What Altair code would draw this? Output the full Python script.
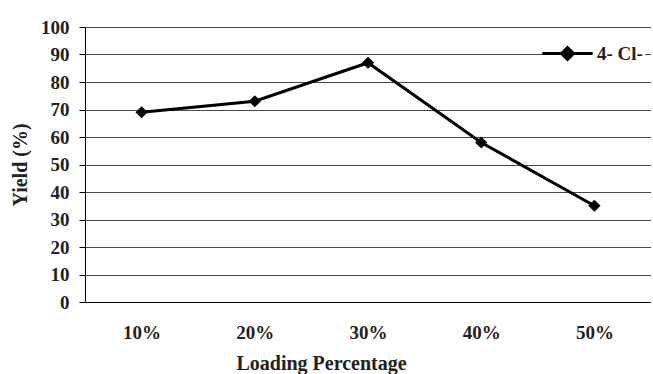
import altair as alt
import pandas as pd

categories = ["10%", "20%", "30%", "40%", "50%"]
yields = [69, 73, 87, 58, 35]
series = ["4- Cl-"] * 5

df = pd.DataFrame({"loading": categories, "yield": yields, "series": series})

FONT = "Liberation Serif"

x = alt.X("loading:N", sort=categories, title="Loading Percentage",
          scale=alt.Scale(type="point", padding=0.5),
          axis=alt.Axis(ticks=False, grid=False, labelPadding=21, titlePadding=11,
                        titleX=236, labelAngle=0, domainColor="black"))
y = alt.Y("yield:Q", title="Yield (%)",
          scale=alt.Scale(domain=[0, 100], nice=False),
          axis=alt.Axis(values=list(range(0, 101, 10)), tickSize=6, labelPadding=10,
                        titlePadding=10, grid=True, gridColor="#4a4a4a", gridWidth=1,
                        tickColor="black", domainColor="black"))

line = alt.Chart(df).mark_line(color="black", strokeWidth=3).encode(x=x, y=y)
points = alt.Chart(df).mark_point(shape="diamond", filled=True, size=150, opacity=1).encode(
    x=x, y=y,
    color=alt.Color("series:N", scale=alt.Scale(domain=["4- Cl-"], range=["black"]),
                    legend=alt.Legend(title=None, orient="none", legendX=471, legendY=15,
                                      fillColor="white", padding=2,
                                      symbolType="M-4.2,0H4.2M0,-1L1,0L0,1L-1,0Z",
                                      symbolSize=144, symbolStrokeWidth=3,
                                      symbolStrokeColor="black", symbolFillColor="black",
                                      labelFont=FONT, labelFontSize=19, labelFontWeight="bold",
                                      labelColor="#222222", labelOffset=20))
)

chart = alt.layer(line, points).properties(
    width=566, height=275,
    padding={"left": 85, "top": 27, "right": 0, "bottom": 72},
    autosize=alt.AutoSizeParams(type="none"),
).configure(background="white").configure_view(stroke=None).configure_axis(
    labelFont=FONT, labelFontSize=19, labelFontWeight="bold", labelColor="#222222",
    titleFont=FONT, titleFontSize=20, titleFontWeight="bold", titleColor="#222222",
)

chart.save("out.html", embed_options={"renderer": "svg", "actions": False})
